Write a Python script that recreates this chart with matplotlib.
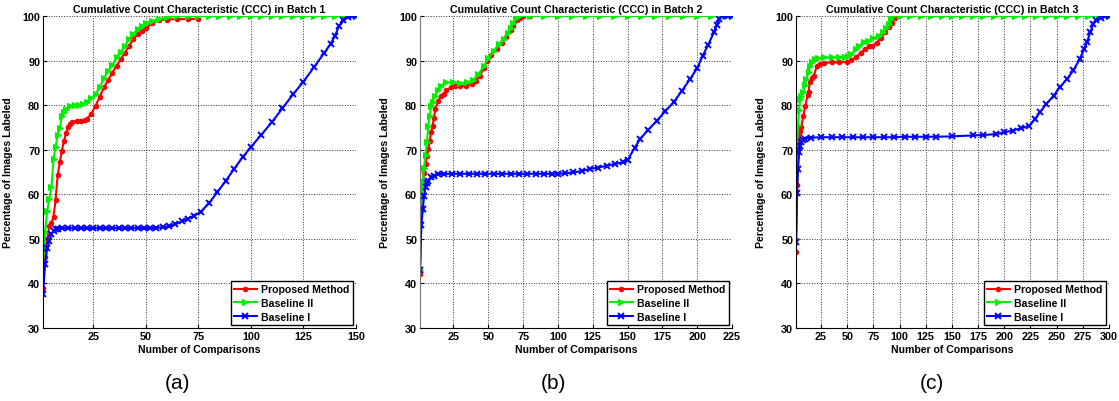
#!/usr/bin/env python3
"""CCC curves for the three batches: proposed method vs. the two baselines."""
import matplotlib
matplotlib.use('Agg')
import matplotlib.pyplot as plt

# ---------------- Batch 1 ----------------
RED_A_X = [1, 2, 3, 4, 5, 6, 7, 8, 9, 10, 11, 12, 13, 14, 15, 17, 19, 21, 22, 24,
           26, 28, 30, 32, 34, 36, 38, 40, 42, 44, 46, 48, 50, 53, 56, 60, 65, 70, 75]
RED_A_Y = [39, 46, 50, 52.8, 53.5, 54.9, 58.8, 64.3, 67.2, 69.8, 72, 73.8, 75, 75.8,
           76.2, 76.5, 76.5, 76.6, 77, 78, 79.9, 81.8, 84, 85.6, 87.3, 88.8, 90.3,
           91.8, 93.3, 94.8, 95.9, 96.7, 97.3, 98.4, 99, 99.2, 99.3, 99.3, 99.4]
GREEN_A_X = [1, 2, 3, 4, 5, 6, 7, 8, 9, 10, 11, 12, 14, 16, 18, 20, 22, 24, 26, 28,
             30, 32, 34, 36, 38, 40, 42, 44, 46, 48, 50, 53, 56, 60, 65, 70, 75, 80,
             85, 90, 95, 100, 105, 110, 115, 120, 125, 130, 135, 140, 145, 150]
GREEN_A_Y = [44, 51.5, 56.2, 59, 61.6, 67.9, 70.6, 73.3, 74.8, 77.6, 78.5, 79.1, 79.9,
             80, 80, 80.2, 80.8, 81.5, 82.5, 84, 86, 87.7, 89, 90.7, 92, 93.3, 94.8,
             96, 97, 97.8, 98.4, 98.9, 99.3, 99.7, 100, 100, 100, 100, 100, 100, 100,
             100, 100, 100, 100, 100, 100, 100, 100, 100, 100, 100]
BLUE_A_X = [1, 2, 3, 4, 5, 6, 7, 8, 10, 13, 16, 19, 22, 25, 28, 31, 34, 37, 40, 43,
            46, 49, 52, 55, 58, 61, 64, 67, 70, 73, 76, 80, 84, 88, 92, 96, 100, 105,
            110, 115, 120, 125, 130, 135, 138, 140, 142, 144, 146, 148, 150]
BLUE_A_Y = [37.6, 44.4, 47.9, 49.6, 51.1, 51.8, 52.2, 52.3, 52.4, 52.4, 52.4, 52.4,
            52.4, 52.4, 52.4, 52.4, 52.4, 52.4, 52.4, 52.4, 52.4, 52.4, 52.4, 52.5,
            52.6, 52.8, 53.3, 53.9, 54.5, 55.2, 56, 58, 60.5, 63, 65.7, 68.3, 70.6,
            73.4, 76.2, 79.3, 82.4, 85.3, 88.5, 91.8, 93.8, 95.6, 97.8, 99, 99.8,
            100, 100]

# ---------------- Batch 2 ----------------
RED_B_X = [1, 2, 3, 4, 5, 6, 7, 8, 9, 10, 11, 12, 14, 16, 18, 20, 23, 26, 30, 34,
           38, 41, 44, 47, 49, 52, 56, 60, 63, 66, 68, 71, 73, 75, 80]
RED_B_Y = [42.2, 57.4, 62.7, 64.8, 66.8, 68.5, 70.2, 72, 73.9, 75.4, 77.2, 79.1, 81,
           82, 82.5, 83.3, 84, 84.3, 84.3, 84.4, 84.8, 85.5, 86.6, 88.4, 90, 91.2,
           92.6, 94, 95.2, 96.8, 97.8, 99, 99.5, 100, 100]
GREEN_B_X = [1, 2, 3, 4, 5, 6, 7, 8, 9, 10, 12, 14, 16, 20, 25, 30, 35, 39, 43, 47,
             50, 54, 58, 61, 64, 66, 68, 70, 72, 80, 90, 100, 110, 120, 130, 140, 150,
             160, 170, 180, 190, 200, 210, 220, 225]
GREEN_B_Y = [43, 56, 63, 66, 68.8, 71.7, 75.4, 77.5, 79.9, 80.8, 82.1, 83.5, 84.4,
             85.1, 85.1, 85, 85.1, 85.6, 87, 88.8, 90.5, 92.2, 93.8, 94.8, 96.2, 97.3,
             98.5, 99.5, 100, 100, 100, 100, 100, 100, 100, 100, 100, 100, 100, 100,
             100, 100, 100, 100, 100]
BLUE_B_X = [1, 2, 3, 4, 5, 6, 7, 9, 11, 14, 18, 24, 30, 36, 42, 48, 54, 60, 66, 72,
            78, 84, 90, 96, 100, 105, 111, 117, 123, 129, 135, 141, 147, 150, 155,
            159, 165, 171, 177, 183, 189, 195, 200, 204, 208, 212, 214, 216, 218, 222,
            225]
BLUE_B_Y = [43, 53.1, 56.7, 59.7, 61.6, 62.5, 63, 63.8, 64.2, 64.5, 64.6, 64.6, 64.6,
            64.6, 64.6, 64.6, 64.6, 64.6, 64.6, 64.6, 64.6, 64.6, 64.6, 64.6, 64.6,
            64.7, 64.9, 65.2, 65.7, 66, 66.4, 66.8, 67.2, 67.6, 70.4, 72.4, 74.5,
            76.5, 78.6, 80.6, 83.2, 85.9, 88.3, 91.1, 93.6, 96.3, 98, 99.3, 100, 100,
            100]

# ---------------- Batch 3 ----------------
RED_C_X = [1, 2, 3, 4, 5, 6, 8, 10, 12, 13, 14, 16, 18, 21, 24, 28, 35, 42, 50, 54,
           58, 63, 67, 71, 74, 78, 82, 86, 90, 93, 96, 98]
RED_C_Y = [47, 62, 72.4, 73.5, 74.3, 75, 77.6, 79.9, 82.2, 82.9, 85.1, 86, 86.6, 88.8,
           89.3, 89.5, 89.6, 89.6, 89.7, 90.2, 90.7, 91.8, 92.6, 93.2, 93.3, 94, 95,
           96.3, 97.6, 98.5, 99.5, 100]
GREEN_C_X = [1, 2, 3, 4, 5, 6, 8, 10, 11, 13, 14, 16, 19, 22, 28, 35, 42, 48, 51, 54,
             58, 61, 66, 70, 75, 80, 84, 87, 90, 92, 93, 100, 110, 120, 130, 140, 150,
             160, 170, 180, 190, 200, 210, 220, 230, 240, 250, 260, 270, 280, 290, 300]
GREEN_C_Y = [50, 70.2, 75.5, 79, 81.4, 82, 82.9, 84.5, 85.9, 87.5, 88.8, 89.6, 90.3,
             90.6, 90.7, 90.7, 90.7, 90.8, 91, 91.5, 92.6, 93.3, 94.2, 94.5, 95, 95.6,
             96.5, 97.3, 98.2, 99.3, 100, 100, 100, 100, 100, 100, 100, 100, 100, 100,
             100, 100, 100, 100, 100, 100, 100, 100, 100, 100, 100, 100]
BLUE_C_X = [1, 2, 3, 4, 5, 6, 8, 10, 15, 25, 35, 45, 55, 65, 75, 85, 95, 105, 115,
            125, 135, 150, 170, 180, 192, 200, 208, 216, 224, 229, 234, 240, 247, 253,
            260, 266, 272, 276, 279, 282, 285, 288, 292, 296, 300]
BLUE_C_Y = [49.3, 60.4, 65.7, 69.5, 70.8, 71.7, 72.2, 72.5, 72.7, 72.8, 72.8, 72.8,
            72.8, 72.8, 72.8, 72.8, 72.8, 72.9, 72.9, 72.9, 72.9, 73, 73.2, 73.3, 73.5,
            73.9, 74.3, 74.8, 75.4, 76.8, 78.4, 80.2, 82.1, 84, 85.9, 87.8, 90.3, 92.5,
            94.1, 96.3, 98.2, 99.1, 99.6, 99.9, 100]

TITLES = ['Cumulative Count Characteristic (CCC) in Batch 1',
          'Cumulative Count Characteristic (CCC) in Batch 2',
          'Cumulative Count Characteristic (CCC) in Batch 3']
XMAX = [150, 225, 300]
PANEL_TAGS = ['(a)', '(b)', '(c)']
LEGEND_NAMES = ['Proposed Method', 'Baseline II', 'Baseline I']

W, H = 1119, 402
plt.rcParams['font.family'] = ['Liberation Sans', 'DejaVu Sans']
plt.rcParams['font.weight'] = 'bold'

fig = plt.figure(figsize=(W / 100, H / 100), dpi=100)

# axes placement in pixels: (left, right), shared top/bottom
AX_PX = [(43, 356), (420, 732), (796, 1109)]
TOP_PX, BOT_PX = 17, 329
TAG_X = [178, 553, 932]

series = [
    (RED_A_X, RED_A_Y, GREEN_A_X, GREEN_A_Y, BLUE_A_X, BLUE_A_Y),
    (RED_B_X, RED_B_Y, GREEN_B_X, GREEN_B_Y, BLUE_B_X, BLUE_B_Y),
    (RED_C_X, RED_C_Y, GREEN_C_X, GREEN_C_Y, BLUE_C_X, BLUE_C_Y),
]

for i, (rx, ry, gx, gy, bx, by) in enumerate(series):
    l, r = AX_PX[i]
    ax = fig.add_axes([l / W, 1 - BOT_PX / H, (r - l) / W, (BOT_PX - TOP_PX) / H])
    ax.plot(rx, ry, '.-', color='#ff0000', lw=1.5, ms=6, label=LEGEND_NAMES[0])
    ax.plot(gx, gy, '>-', color='#00ee00', lw=1.5, ms=3.8, mew=0.8,
            label=LEGEND_NAMES[1])
    ax.plot(bx, by, 'x-', color='#0000ff', lw=1.5, ms=4.2, mew=1.4,
            label=LEGEND_NAMES[2])

    ax.set_xlim(1, XMAX[i])
    ax.set_ylim(30, 100)
    ax.set_xticks(list(range(25, XMAX[i] + 1, 25)))
    ax.set_yticks(list(range(30, 101, 10)))
    ax.grid(True, ls=':', color='black', lw=0.7, alpha=0.8)
    ax.tick_params(direction='in', length=3, labelsize=7.8, pad=2)
    for s in ('top', 'right'):
        ax.spines[s].set_visible(False)
    ax.spines['left'].set_color('#777777' if i == 1 else 'black')

    ax.set_title(TITLES[i], fontsize=7.7, fontweight='bold', pad=3)
    ax.set_xlabel('Number of Comparisons', fontsize=7.6, fontweight='bold', labelpad=2)
    ax.set_ylabel('Percentage of Images Labeled', fontsize=7.6, fontweight='bold')
    ax.yaxis.set_label_coords(-30 / (r - l), 0.5)

    leg = ax.legend(loc='lower right', fontsize=7.6, fancybox=False, framealpha=1,
                    edgecolor='black', borderaxespad=0.3, handlelength=2.2,
                    labelspacing=0.35, borderpad=0.3, handletextpad=0.4)
    leg.get_frame().set_linewidth(1.0)

    fig.text(TAG_X[i] / W, 1 - 384 / H, PANEL_TAGS[i], fontsize=15,
             fontweight='normal', ha='center', va='center')

fig.savefig('out.png', dpi=100)
